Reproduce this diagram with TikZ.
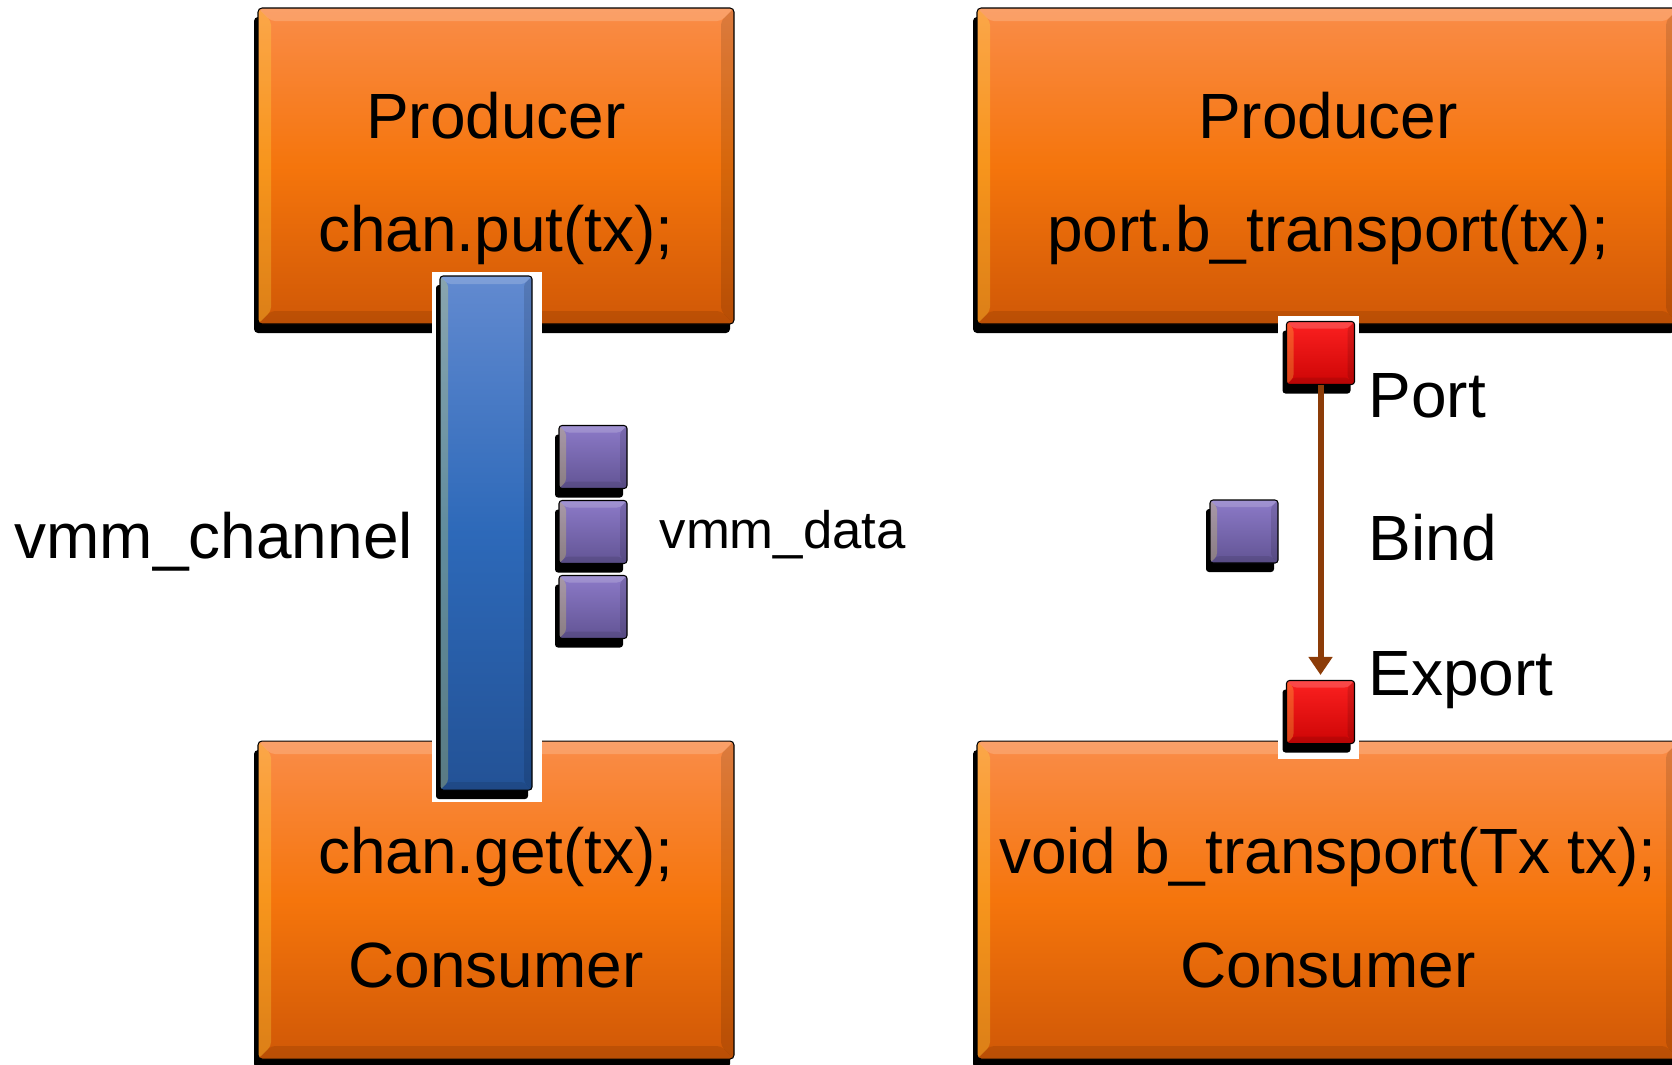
\documentclass[tikz,border=0pt]{standalone}
\usepackage{fontspec}
\setmainfont{Liberation Sans}
\usetikzlibrary{positioning,calc}
\usetikzlibrary{arrows.meta,shadows}
\definecolor{BoxTop}{RGB}{250,140,72}
\definecolor{BoxMid}{RGB}{245,117,12}
\definecolor{BoxBot}{RGB}{208,88,6}
\definecolor{ChanTop}{RGB}{98,138,208}
\definecolor{ChanMid}{RGB}{45,105,185}
\definecolor{ChanBot}{RGB}{35,82,150}
\definecolor{DataTop}{RGB}{140,122,200}
\definecolor{DataBot}{RGB}{98,84,148}
\definecolor{PortTop}{RGB}{252,32,32}
\definecolor{PortBot}{RGB}{205,5,5}
\definecolor{BindBrown}{RGB}{140,60,8}
\tikzset{
  bevel/.style={path picture={
    \coordinate (bnw) at (path picture bounding box.north west);
    \coordinate (bne) at (path picture bounding box.north east);
    \coordinate (bsw) at (path picture bounding box.south west);
    \coordinate (bse) at (path picture bounding box.south east);
    \fill[white,opacity=.18] (bnw) -- (bne) -- ($(bne)+(-#1,-#1)$) -- ($(bnw)+(#1,-#1)$) -- cycle;
    \fill[yellow!70!white,opacity=.25] (bnw) -- (bsw) -- ($(bsw)+(#1,#1)$) -- ($(bnw)+(#1,-#1)$) -- cycle;
    \fill[black,opacity=.12] (bne) -- (bse) -- ($(bse)+(-#1,#1)$) -- ($(bne)+(-#1,-#1)$) -- cycle;
    \fill[black,opacity=.10] (bsw) -- (bse) -- ($(bse)+(-#1,#1)$) -- ($(bsw)+(#1,#1)$) -- cycle;
  }},
  shade3d/.style={draw=black,line width=0.3pt,inner sep=0pt,
    drop shadow={shadow xshift=-0.04cm,shadow yshift=-0.09cm,fill=black,opacity=1}},
  module/.style={rectangle,rounded corners=0.04cm,shade3d,
    top color=BoxTop,bottom color=BoxBot,middle color=BoxMid,bevel=0.13},
  chanbar/.style={rectangle,rounded corners=0.03cm,shade3d,
    top color=ChanTop,bottom color=ChanBot,middle color=ChanMid,bevel=0.08,
    minimum width=0.92cm,minimum height=5.14cm},
  datasq/.style={rectangle,rounded corners=0.03cm,shade3d,
    top color=DataTop,bottom color=DataBot,bevel=0.07,
    minimum width=0.68cm,minimum height=0.63cm},
  portsq/.style={rectangle,rounded corners=0.03cm,shade3d,
    top color=PortTop,bottom color=PortBot,bevel=0.07,
    minimum width=0.68cm,minimum height=0.63cm},
  backing/.style={rectangle,fill=white,inner sep=0pt},
  codetext/.style={font=\fontsize{18.2}{22}\selectfont,inner sep=0pt,anchor=base},
  sidelabel/.style={font=\fontsize{18.2}{22}\selectfont,inner sep=0pt,anchor=base west},
  datalabel/.style={font=\fontsize{15}{18}\selectfont,inner sep=0pt,anchor=base west},
  bindarrow/.style={draw=BindBrown,line width=0.06cm,shorten >=0.05cm,
    -{Triangle[width=0.23cm,length=0.18cm]}},
}
\begin{document}
\begin{tikzpicture}
\useasboundingbox (0,0) rectangle (16.72,-10.64);
\clip (0,0) rectangle (16.72,-10.64);
\node[module,minimum width=4.76cm,minimum height=3.16cm] (prodL) at (4.96,-1.66) {};
\node[module,minimum width=4.76cm,minimum height=3.18cm] (consL) at (4.96,-9.0) {};
\node[module,minimum width=7.02cm,minimum height=3.16cm] (prodR) at (13.28,-1.66) {};
\node[module,minimum width=7.02cm,minimum height=3.18cm] (consR) at (13.28,-9.0) {};
\node[codetext] (prodLname) at ([yshift=-1.31cm]prodL.north) {Producer};
\node[codetext] (prodLcall) at ([yshift=-2.44cm]prodL.north) {chan.put(tx);};
\node[codetext] (consLcall) at ([yshift=-1.33cm]consL.north) {chan.get(tx);};
\node[codetext] (consLname) at ([yshift=-2.47cm]consL.north) {Consumer};
\node[codetext] (prodRname) at ([yshift=-1.31cm]prodR.north) {Producer};
\node[codetext] (prodRcall) at ([yshift=-2.44cm]prodR.north) {port.b\_transport(tx);};
\node[codetext] (consRcall) at ([yshift=-1.33cm]consR.north) {void b\_transport(Tx tx);};
\node[codetext] (consRname) at ([yshift=-2.47cm]consR.north) {Consumer};
\node[backing,minimum width=1.10cm,minimum height=5.30cm] (chanbg) at (4.87,-5.37) {};
\node[chanbar] (chan) at (4.86,-5.33) {};
\foreach \i/\y in {1/4.57,2/5.32,3/6.07}
  \node[datasq] (data\i) at (5.93,-\y) {};
\node[sidelabel] (chanlabel) at (0.14,-5.58) {vmm\_channel};
\node[datalabel] (datalabel) at (6.59,-5.48) {vmm\_data};
\node[backing,minimum width=0.81cm,minimum height=0.82cm] (portbg) at (13.185,-3.57) {};
\node[portsq] (port) at (13.205,-3.53) {};
\node[backing,minimum width=0.81cm,minimum height=0.84cm] (exportbg) at (13.185,-7.17) {};
\node[portsq] (export) at (13.205,-7.12) {};
\node[datasq] (bind) at (12.44,-5.315) {};
\draw[bindarrow] (port) -- (export);
\node[sidelabel] (portlabel) at (13.68,-4.17) {Port};
\node[sidelabel] (bindlabel) at (13.68,-5.60) {Bind};
\node[sidelabel] (exportlabel) at (13.68,-6.95) {Export};
\end{tikzpicture}
\end{document}
